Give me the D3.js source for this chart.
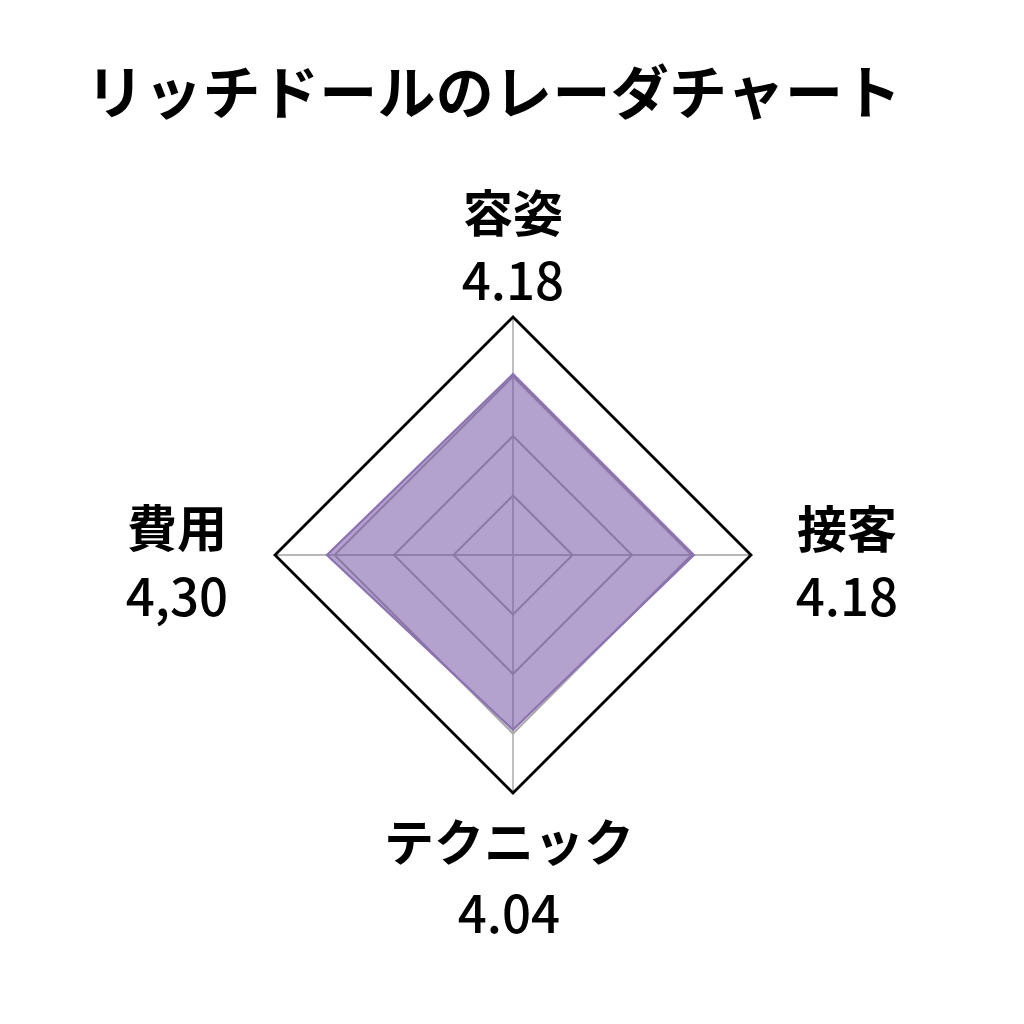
<!DOCTYPE html>
<html lang="ja">
<head>
<meta charset="UTF-8">
<title>リッチドールのレーダチャート</title>
<style>
  body { margin: 0; background: #fff; }
  text { font-family: "Noto Sans CJK JP", "Noto Sans", sans-serif; fill: #000; }
</style>
</head>
<body>
<script src="https://d3js.org/d3.v7.min.js"></script>
<script>
const title = "リッチドールのレーダチャート";
const categories = ["容姿", "接客", "テクニック", "費用"];
const values = [4.18, 4.18, 4.04, 4.30];
const valueLabels = ["4.18", "4.18", "4.04", "4,30"];
const ringLevels = [1.375, 2.75, 4.125, 5.5];

const w = 1024, h = 1024;
const cx = 513, cy = 555, R = 238;

const svg = d3.select("body").append("svg")
    .attr("width", w)
    .attr("height", h);

svg.append("text")
    .attr("x", 86)
    .attr("y", 89)
    .attr("dominant-baseline", "central")
    .attr("font-size", 58)
    .attr("font-weight", 700)
    .attr("letter-spacing", 0.3)
    .text(title);

const r = d3.scaleLinear().domain([0, 5.5]).range([0, R]);
const angle = d3.scaleLinear().domain([0, categories.length]).range([0, 2 * Math.PI]);

const g = svg.append("g").attr("transform", `translate(${cx},${cy})`);

const ringLine = d3.lineRadial()
    .angle((d, i) => angle(i))
    .radius(d => r(d))
    .curve(d3.curveLinearClosed);

// axes
g.selectAll(".axis").data(categories).enter().append("line")
    .attr("x1", 0).attr("y1", 0)
    .attr("x2", (d, i) => r(5.5) * Math.sin(angle(i)))
    .attr("y2", (d, i) => -r(5.5) * Math.cos(angle(i)))
    .attr("stroke", "#b8b8b8")
    .attr("stroke-width", 1.8);

// rings
g.selectAll(".ring").data(ringLevels).enter().append("path")
    .attr("d", lv => ringLine(categories.map(() => lv)))
    .attr("fill", "none")
    .attr("stroke", (lv, i) => i === ringLevels.length - 1 ? "#000" : "#a8a8a8")
    .attr("stroke-width", (lv, i) => i === ringLevels.length - 1 ? 2.8 : 2)
    .attr("stroke-linejoin", "miter");

// data polygon
g.append("path")
    .attr("d", ringLine(values))
    .attr("fill", "rgb(112,80,160)")
    .attr("fill-opacity", 0.53)
    .attr("stroke", "#8c72b3")
    .attr("stroke-width", 2.2);

// labels
const labelPos = [
    { x: 513, y: 210, vy: 278 },
    { x: 847, y: 526, vy: 594 },
    { x: 509, y: 839, vy: 911 },
    { x: 177, y: 525, vy: 594 }
];

categories.forEach((c, i) => {
    const p = labelPos[i];
    svg.append("text")
        .attr("x", p.x).attr("y", p.y)
        .attr("text-anchor", "middle")
        .attr("dominant-baseline", "central")
        .attr("font-size", 50)
        .attr("font-weight", 700)
        .text(c);
    svg.append("text")
        .attr("x", p.x).attr("y", p.vy)
        .attr("text-anchor", "middle")
        .attr("dominant-baseline", "central")
        .attr("font-size", 51)
        .attr("font-weight", 500)
        .text(valueLabels[i]);
});
</script>
</body>
</html>
